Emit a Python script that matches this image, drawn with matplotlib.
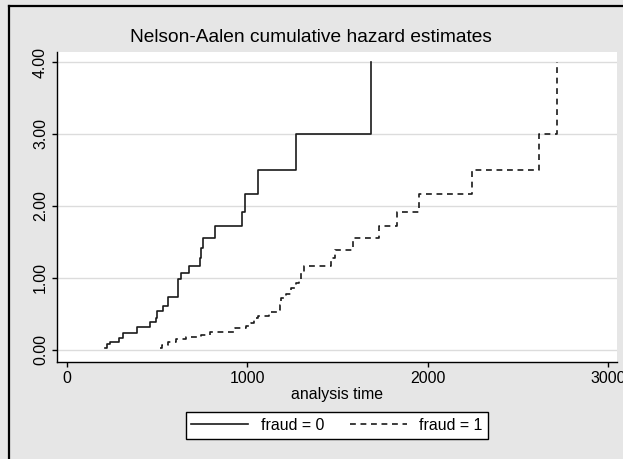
import matplotlib.pyplot as plt
from matplotlib.lines import Line2D
import numpy as np

plt.rcParams['font.family'] = ['Liberation Sans', 'DejaVu Sans']

# fraud = 0
t0 = [213, 222, 240, 290, 314, 391, 460, 494, 502, 535, 562, 618,
      633, 679, 738, 747, 756, 820, 973, 986, 1060, 1272, 1688]
h0 = [0.024, 0.083, 0.115, 0.163, 0.24, 0.315, 0.393, 0.44, 0.546, 0.615,
      0.74, 0.98, 1.07, 1.17, 1.28, 1.41, 1.55, 1.717, 1.917, 2.167, 2.5,
      3.0, 4.0]

# fraud = 1
t1 = [517, 531, 563, 609, 664, 747, 793, 931, 995, 1023, 1041, 1060,
      1124, 1134, 1171, 1180, 1189, 1216, 1244, 1272, 1290, 1299, 1318,
      1465, 1489, 1588, 1732, 1830, 1953, 2244, 2616, 2717]
h1 = [0.024, 0.069, 0.115, 0.153, 0.176, 0.208, 0.254, 0.301, 0.333, 0.371,
      0.44, 0.472, 0.5, 0.532, 0.556, 0.625, 0.718, 0.778, 0.857, 0.926,
      0.982, 1.065, 1.16, 1.275, 1.39, 1.55, 1.717, 1.917, 2.167, 2.5,
      3.0, 4.0]

xticks = [0, 1000, 2000, 3000]
yticks = [0, 1, 2, 3, 4]

bg = '#e6e6e6'
fig = plt.figure(figsize=(6.23, 4.59), dpi=100, facecolor=bg)
ax = fig.add_axes([57 / 623, 1 - 362 / 459, 560 / 623, 310 / 459])
ax.set_facecolor('white')

ax.step(t0, h0, where='post', color='#1a1a1a', lw=1.2, label='fraud = 0')
ax.step(t1, h1, where='post', color='#1a1a1a', lw=1.2,
        linestyle=(0, (3.5, 2.8)), label='fraud = 1')

ax.set_xlim(-53, 3050)
ax.set_ylim(-0.167, 4.139)
ax.set_xticks(xticks)
ax.set_yticks(yticks)
ax.set_yticklabels(['%.2f' % v for v in yticks], rotation=90, va='center')
ax.yaxis.grid(True, color='#dcdcdc', lw=1)
ax.set_axisbelow(True)
for s in ['top', 'right']:
    ax.spines[s].set_visible(False)
for s in ['left', 'bottom']:
    ax.spines[s].set_color('black')
    ax.spines[s].set_linewidth(1.0)
ax.tick_params(labelsize=11.4, length=3.5, width=1, color='black', pad=3)
ax.set_xlabel('analysis time', fontsize=11.4, labelpad=1)

fig.text(311 / 623, 1 - 38 / 459, 'Nelson-Aalen cumulative hazard estimates',
         ha='center', va='center', fontsize=13.8)

fig.legend(loc='center', bbox_to_anchor=(337 / 623, 1 - 425.5 / 459), ncol=2,
           fontsize=11.4, frameon=True, fancybox=False, edgecolor='black',
           facecolor='white', framealpha=1, handlelength=3.6, columnspacing=1.6,
           handletextpad=0.8, borderpad=0.35)

# black frame on the left and top edges of the screenshot
fig.add_artist(Line2D([9 / 623, 9 / 623], [0, 1 - 6 / 459], color='black',
                      lw=1.6, transform=fig.transFigure))
fig.add_artist(Line2D([9 / 623, 1], [1 - 6 / 459, 1 - 6 / 459], color='black',
                      lw=1.6, transform=fig.transFigure))

fig.savefig('out.png', dpi=100, facecolor=bg)
